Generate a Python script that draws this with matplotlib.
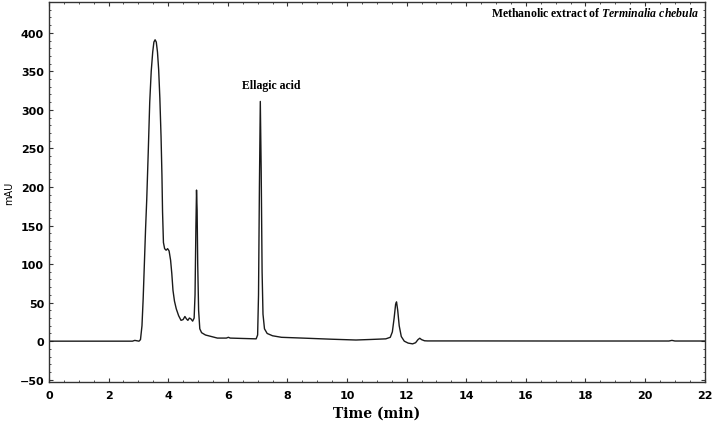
import numpy as np
import matplotlib.pyplot as plt
from matplotlib.ticker import MultipleLocator

plt.rcParams['mathtext.fontset'] = 'custom'
plt.rcParams['mathtext.it'] = 'Liberation Serif:italic:bold'

# chromatogram (time in min, signal in mAU)
time = [0, 2.80, 2.88, 2.95, 3.02, 3.07, 3.12, 3.16, 3.20, 3.24, 3.28, 3.33,
        3.38, 3.43, 3.48, 3.52, 3.56, 3.60, 3.64, 3.68, 3.72, 3.76, 3.79, 3.81,
        3.84, 3.88, 3.93, 3.98, 4.03, 4.08, 4.12, 4.16, 4.21, 4.27, 4.35, 4.43,
        4.50, 4.56, 4.61, 4.66, 4.71, 4.76, 4.82, 4.87, 4.90, 4.93, 4.95, 4.97,
        4.99, 5.02, 5.06, 5.12, 5.25, 5.45, 5.65, 5.95, 6.02, 6.08, 6.50, 6.95,
        7.00, 7.03, 7.06, 7.09, 7.12, 7.15, 7.18, 7.23, 7.32, 7.50, 7.80, 8.50,
        9.50, 10.3, 10.8, 11.3, 11.45, 11.52, 11.58, 11.63, 11.66, 11.70, 11.75,
        11.82, 11.92, 12.05, 12.20, 12.30, 12.38, 12.44, 12.50, 12.60, 12.70,
        14.0, 17.0, 20.8, 20.9, 21.0, 22.0]
signal = [0, 0, 1, 0.5, 0, 2, 20, 55, 100, 145, 184, 245,
          310, 350, 375, 388, 391, 388, 375, 352, 315, 265, 215, 168,
          128, 120, 118, 120, 117, 105, 88, 66, 52, 42, 33, 27,
          28, 32, 29, 27, 30, 29, 26, 30, 60, 150, 196, 170,
          100, 40, 16, 11, 8, 6, 4, 4, 5, 4, 3.5, 3,
          8, 60, 200, 311, 220, 90, 35, 16, 10, 7, 5, 4,
          2.5, 1.5, 2.2, 3, 5, 12, 30, 48, 51, 40, 20,
          6, 0, -2.5, -3.5, -2, 2, 3.8, 2, 0.5, 0.3,
          0.3, 0.2, 0.2, 1, 0.2, 0.2]

xticks = np.arange(0, 23, 2)
yticks = np.arange(-50, 401, 50)

fig = plt.figure(figsize=(7.14, 4.27), dpi=100)
ax = fig.add_axes([0.0686, 0.103, 0.9184, 0.890])

ax.plot(time, signal, color='#1a1a1a', lw=1.0)

ax.set_xlim(0, 22)
ax.set_ylim(-53, 440)
ax.set_xticks(xticks)
ax.set_yticks(yticks)
ax.xaxis.set_minor_locator(MultipleLocator(0.5))
ax.yaxis.set_minor_locator(MultipleLocator(10))
ax.tick_params(which='both', direction='in', top=True, right=True, colors='#333333')
ax.tick_params(which='major', length=3, width=0.8)
ax.tick_params(which='minor', length=1.5, width=0.6)
for lab in ax.get_xticklabels() + ax.get_yticklabels():
    lab.set_fontweight('bold')
    lab.set_fontsize(8)
    lab.set_color('black')
ax.tick_params(axis='x', pad=6)
for s in ax.spines.values():
    s.set_color('#333333')
    s.set_linewidth(1.0)

ax.set_xlabel('Time (min)', family='DejaVu Serif', fontweight='bold', fontsize=10, labelpad=4)
ax.set_ylabel('mAU', fontsize=7, labelpad=4)

ax.text(7.45, 332, 'Ellagic acid', family='Liberation Serif', fontweight='bold',
        fontsize=8.5, ha='center', va='center')
ax.text(21.8, 426, 'Methanolic extract of $\\it{Terminalia\\ chebula}$',
        family='Liberation Serif', fontweight='bold', fontsize=8.5, ha='right', va='center')

fig.savefig('out.png', dpi=100)
